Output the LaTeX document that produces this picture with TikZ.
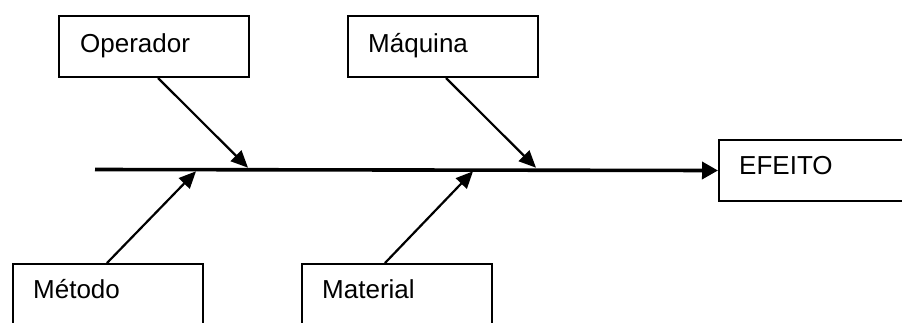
\documentclass[tikz,border=0pt]{standalone}
\usepackage{fontspec}
\setmainfont{Liberation Sans}
\usetikzlibrary{arrows.meta,calc}
\begin{document}
\begin{tikzpicture}[x=1pt,y=-1pt,
  box/.style={draw, line width=2pt, rectangle, minimum width=190pt, minimum height=61pt, anchor=north west, inner sep=0pt},
  lbl/.style={anchor=base west, font=\fontsize{26}{30}\selectfont, inner sep=0pt},
  bone/.style={line width=2.2pt, -{Triangle[length=17pt,width=15pt]}},
  spine/.style={line width=3.6pt, -{Triangle[length=16pt,width=17pt]}}]
\useasboundingbox (0,0) rectangle (902,322);
\clip (0,0) rectangle (902,322);
% boxes
\node[box] (op) at (58,15) {};
\node[box] (maq) at (347,15) {};
\node[box] (ef) at (718,139) {};
\node[box] (met) at (12,263) {};
\node[box] (mat) at (301,263) {};
% labels
\node[lbl] (opt) at (80,52) {Operador};
\node[lbl] (maqt) at (368,52) {Máquina};
\node[lbl] (eft) at (739,174) {EFEITO};
\node[lbl] (mett) at (33,298) {Método};
\node[lbl] (matt) at (322,298) {Material};
% spine
\coordinate (tail) at (95,169.5);
\draw[spine] (tail) -- (ef.west);
% bone tips
\coordinate (t1) at (248,167.7);
\coordinate (t2) at (536,167.7);
\coordinate (t3) at (196,171.3);
\coordinate (t4) at (473,171.3);
\draw[bone] ($(op.south)+(4,0)$) -- (t1);
\draw[bone] ($(maq.south)+(3,0)$) -- (t2);
\draw[bone] ($(met.north)+(-1,0)$) -- (t3);
\draw[bone] ($(mat.north)+(-12,0)$) -- (t4);
\end{tikzpicture}
\end{document}
